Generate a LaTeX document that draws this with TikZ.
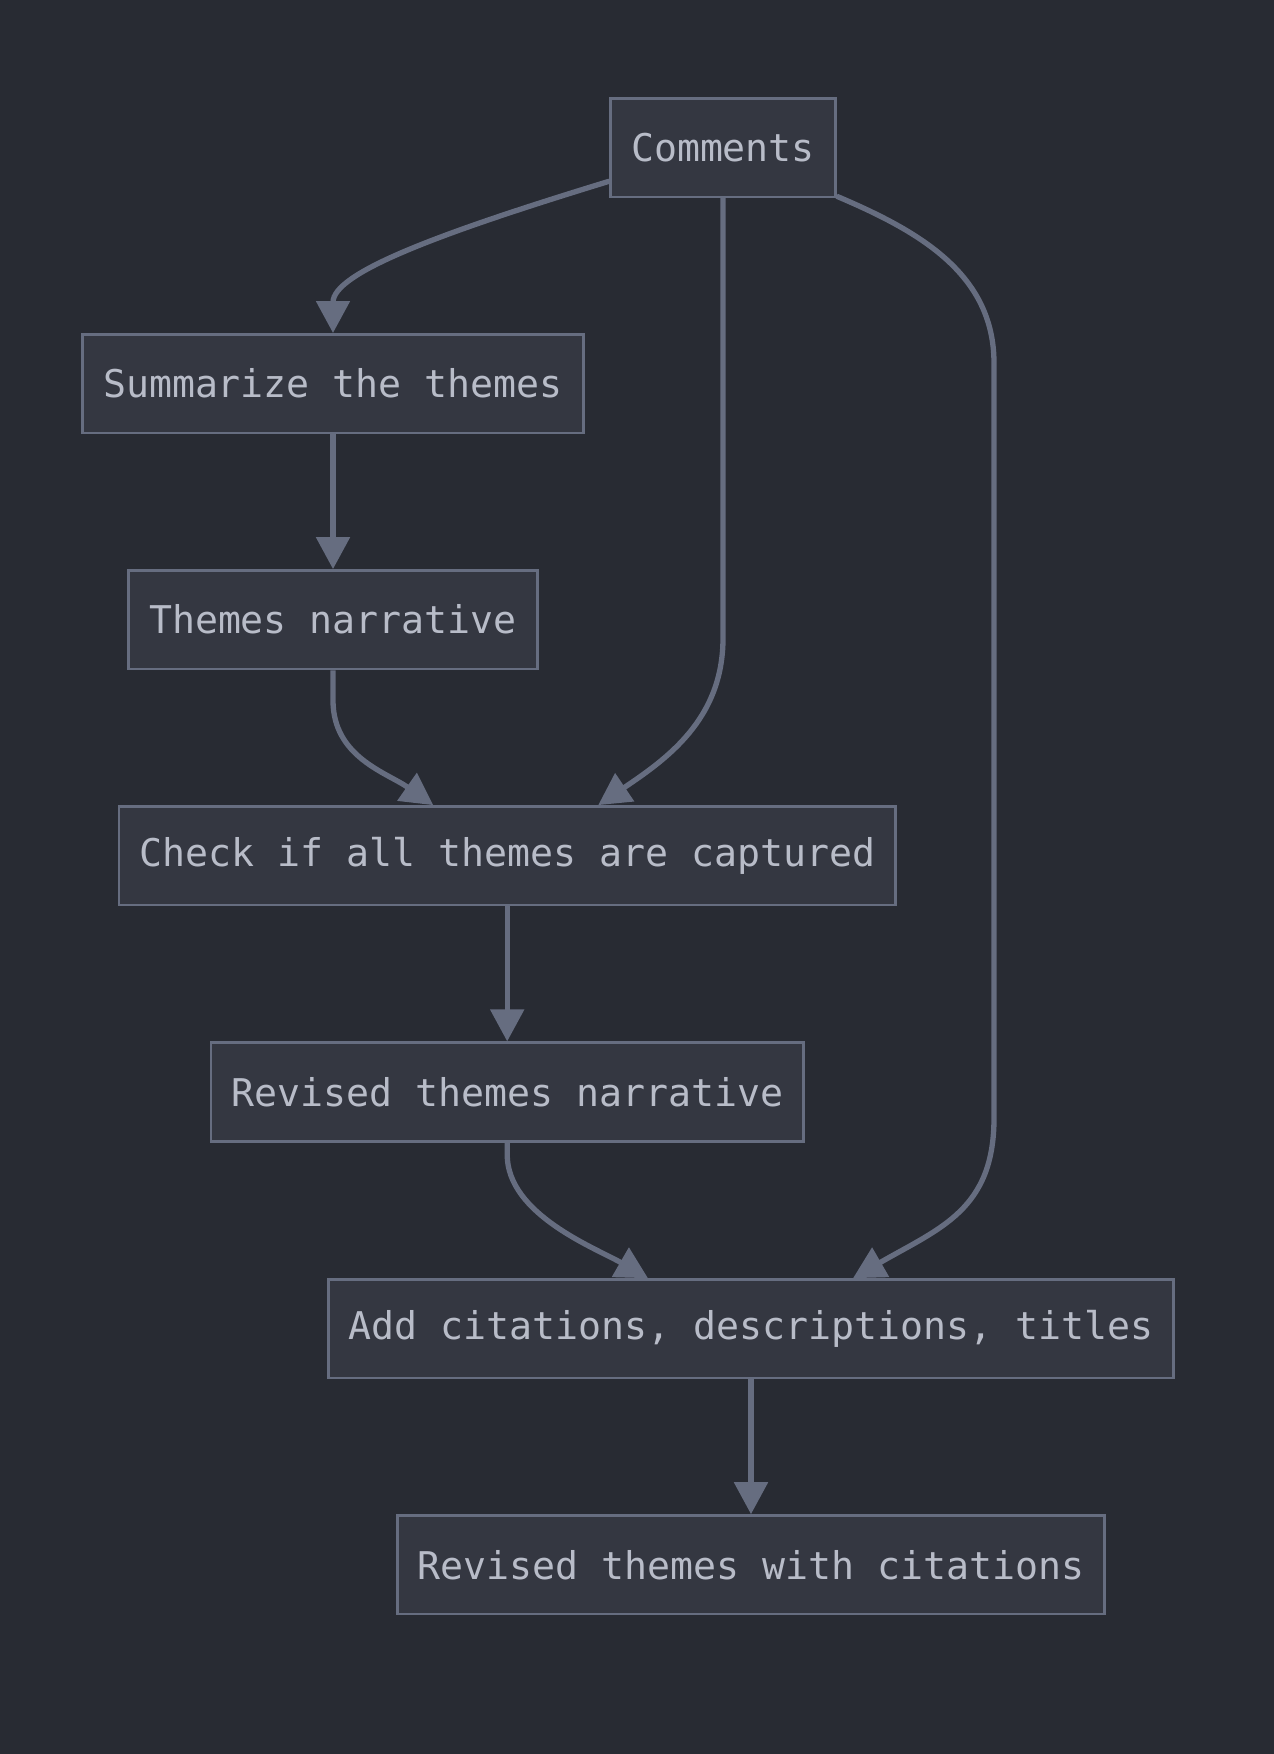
\documentclass[tikz,border=0pt]{standalone}
\usepackage{fontspec}
\setmonofont{DejaVu Sans Mono}
\usetikzlibrary{arrows.meta}
\definecolor{bgcol}{HTML}{282B33}
\definecolor{boxfill}{HTML}{343741}
\definecolor{boxline}{HTML}{666D80}
\definecolor{boxtext}{HTML}{B8BCC8}
\definecolor{edgecol}{HTML}{666D80}
\begin{document}
\begin{tikzpicture}[x=1pt,y=1pt,
  box/.style={draw=boxline, line width=2.7pt, fill=boxfill, text=boxtext,
    font=\ttfamily\fontsize{38.2}{46}\selectfont, inner xsep=20.3pt, minimum height=98.5pt},
  edge/.style={draw=edgecol, line width=5.3pt, -{Triangle[length=32pt,width=33pt]}}]
\def\W{1274};\def\H{1754};
\fill[bgcol] (0,0) rectangle (\W,-\H);
\useasboundingbox (0,0) rectangle (\W,-\H);
% boxes
\node[box] (cm) at (723,-147.6) {Comments};
\node[box] (sum) at (333,-383.6) {Summarize the themes};
\node[box] (nar) at (333,-619.7) {Themes narrative};
\node[box] (chk) at (507.2,-855.7) {Check if all themes are captured};
\node[box] (rev) at (507.2,-1092) {Revised themes narrative};
\node[box] (add) at (751,-1328.8) {Add citations, descriptions, titles};
\node[box] (fin) at (751,-1564.8) {Revised themes with citations};
\coordinate (lane) at (994,0);
% edges
\draw[edge] ([yshift=17]cm.south west) .. controls +(197:180) and +(0,60) .. (sum.north);
\draw[edge] (sum) -- (nar);
\draw[edge] (nar.south) -- ++(0,-30) to[out=-90,in=145] ([xshift=-74]chk.north);
\draw[edge] (cm.south) -- ++(0,-440) to[out=-90,in=34] ([xshift=91]chk.north);
\draw[edge] (chk) -- (rev);
\draw[edge] (rev.south) -- ++(0,-12) .. controls +(0,-60) and +(150:60) .. ([xshift=-103]add.north);
\draw[edge] ([yshift=2]cm.south east) to[out=-23,in=90] ([yshift=-165]cm.south -| lane)
  -- ([yshift=160]add.north -| lane) to[out=-90,in=30,out looseness=1.1,in looseness=1.2] ([xshift=102]add.north);
\draw[edge] (add) -- (fin);
\end{tikzpicture}
\end{document}
